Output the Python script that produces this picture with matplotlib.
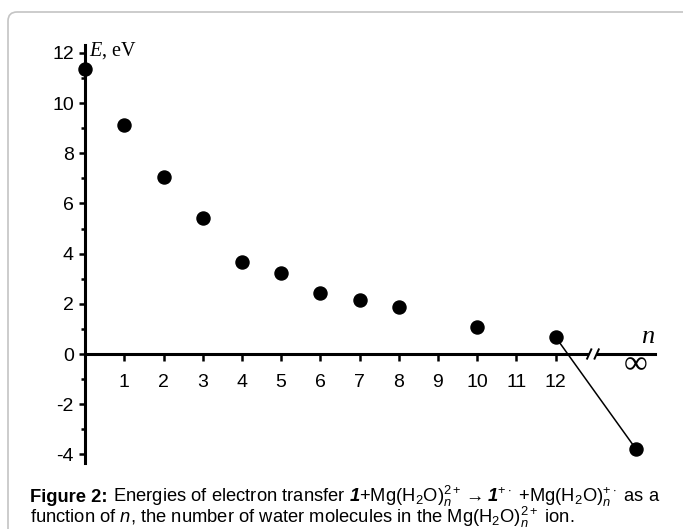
"""Electron transfer energies vs number of water molecules (Figure 2)."""

import numpy as np
from matplotlib import pyplot as plt
from matplotlib.patches import FancyBboxPatch

# data
n_values = [0, 1, 2, 3, 4, 5, 6, 7, 8, 10, 12]
energies = [11.35, 9.12, 7.04, 5.42, 3.65, 3.21, 2.42, 2.15, 1.88, 1.08, 0.68]
n_inf_pos = 14.05          # where "infinity" sits on the broken axis
energy_inf = -3.78
x_tick_values = list(range(1, 13))
y_major_ticks = [-4, -2, 0, 2, 4, 6, 8, 10, 12]
y_minor_ticks = [-3, -1, 1, 3, 5, 7, 9, 11]

plt.rcParams['font.family'] = ['Liberation Sans', 'DejaVu Sans']
plt.rcParams['axes.unicode_minus'] = False
plt.rcParams['mathtext.fontset'] = 'custom'
plt.rcParams['mathtext.rm'] = 'Liberation Sans'
plt.rcParams['mathtext.it'] = 'Liberation Sans:italic'
plt.rcParams['mathtext.bf'] = 'Liberation Sans:bold'
plt.rcParams['mathtext.bfit'] = 'Liberation Sans:italic:bold'

W, H = 683, 529
fig = plt.figure(figsize=(W / 100, H / 100), dpi=100)
renderer = fig.canvas.get_renderer()

# axes placed so that x=0 -> px 85, 39.2 px/unit ; y=0 -> px 354, 25.1 px/unit
left_px, right_px, top_px, bot_px = 60, 670, 30, 470
ax = fig.add_axes([left_px / W, 1 - bot_px / H, (right_px - left_px) / W, (bot_px - top_px) / H])
ax.set_xlim((left_px - 85.1) / 39.2, (right_px - 85.1) / 39.2)
ax.set_ylim((354 - bot_px) / 25.1, (354 - top_px) / 25.1)
ax.patch.set_visible(False)

for side in ['top', 'right']:
    ax.spines[side].set_visible(False)
ax.spines['left'].set_position(('data', 0))
ax.spines['bottom'].set_position(('data', 0))
ax.spines['left'].set_bounds(-4.35, 12.3)
ax.spines['bottom'].set_bounds(0, 14.55)
ax.spines['left'].set_linewidth(2.2)
ax.spines['bottom'].set_linewidth(2.2)

ax.set_xticks(x_tick_values)
ax.set_yticks(y_major_ticks)
ax.set_yticks(y_minor_ticks, minor=True)
ax.tick_params(axis='x', direction='out', length=5, width=1.8, pad=9.5, labelsize=14)
ax.tick_params(axis='y', which='major', direction='out', length=4.5, width=1.8, pad=3.5, labelsize=14)
ax.tick_params(axis='y', which='minor', direction='out', length=3, width=1.8)

# points and the line to n = infinity
ax.plot(n_values, energies, 'o', color='black', markersize=9.4, zorder=6, clip_on=False)
ax.plot([n_values[-1], n_inf_pos], [energies[-1], energy_inf], color='black', lw=1.1, zorder=4)
ax.plot([n_inf_pos], [energy_inf], 'o', color='black', markersize=9.4, zorder=6, clip_on=False)

# axis break marks "//"
x1, x2, dx, dy = 12.86, 13.05, 0.064, 0.22
ax.fill([x1, x2, x2, x1], [-0.12, -0.12, 0.12, 0.12], color='white', zorder=5, lw=0)
for xb in (x1, x2):
    ax.plot([xb - dx, xb + dx], [-dy, dy], color='black', lw=1.4, zorder=5, solid_capstyle='butt')

ax.text(n_inf_pos, -0.42, '\u221e', family='Liberation Serif', fontsize=24, ha='center', va='center')
ax.text(14.36, 0.45, 'n', family='Liberation Serif', style='italic', fontsize=19, ha='center', va='baseline')

# y axis label "E, eV": italic E followed by upright text
t_e = ax.text(89.5, H - 56, 'E', family='Liberation Serif', style='italic', fontsize=14.5,
              ha='left', va='baseline', transform=None)
bb = t_e.get_window_extent(renderer)
ax.text(bb.x1 + 0.5, H - 56, ', eV', family='Liberation Serif', fontsize=14.5,
        ha='left', va='baseline', transform=None)

# caption
cap_size = 13.2
cap1 = (r' Energies of electron transfer $\mathbfit{1}$+Mg(H$_2$O)$_n^{2+}$'
        r'$\rightarrow$$\mathbfit{1}^{+\cdot}$ +Mg(H$_2$O)$_n^{+\cdot}$ as a')
cap2 = r'function of $n$, the number of water molecules in the Mg(H$_2$O)$_n^{2+}$ ion.'
t_fig = fig.text(30 / W, 1 - 502 / H, 'Figure 2:', fontsize=cap_size, weight='bold',
                 ha='left', va='baseline')
bb = t_fig.get_window_extent(renderer)
fig.text(bb.x1 / W, 1 - 502 / H, cap1, fontsize=cap_size, ha='left', va='baseline')
fig.text(30 / W, 1 - 523.5 / H, cap2, fontsize=cap_size, ha='left', va='baseline')

# light rounded frame
frame = FancyBboxPatch((8, -20), 700, 517 + 20, boxstyle='round,pad=0,rounding_size=9',
                       transform=None, facecolor='none', edgecolor='#c4c4c4', lw=1.2)
fig.patches.append(frame)

fig.savefig('out.png', dpi=100)
